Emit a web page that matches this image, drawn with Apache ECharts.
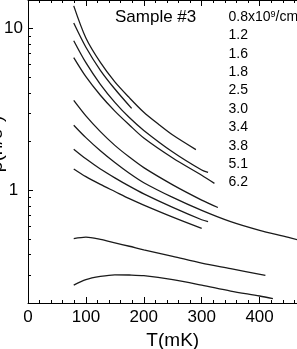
<!DOCTYPE html>
<html><head><meta charset="utf-8">
<script src="https://cdn.jsdelivr.net/npm/echarts@6/dist/echarts.min.js"></script>
<style>html,body{margin:0;padding:0;background:#fff}#c{width:297px;height:349px}</style>
</head><body><div id="c"></div>
<script>
// ---- data ----
const densityLabels = ['0.8x10{sup|9}/cm{sup|2}','1.2','1.6','1.8','2.5','3.0','3.4','3.8','5.1','6.2'];
const T_08 = [79,100,125,150,175,200,225,250,290];
const rho_08 = [13.8,8.73,6.16,4.67,3.73,3.03,2.56,2.19,1.78];
const T_12 = [79,100,125,150,179];
const rho_12 = [10.8,7.65,5.51,4.22,3.2];
const T_16 = [79,100,125,150,175,200,250,300,311];
const rho_16 = [8.4,6.14,4.51,3.49,2.81,2.34,1.72,1.33,1.285];
const T_18 = [79,100,125,150,175,200,250,300,322];
const rho_18 = [6.6,5.03,3.86,3.08,2.53,2.10,1.58,1.235,1.10];
const T_25 = [79,100,125,150,175,200,250,300,328];
const rho_25 = [3.59,2.88,2.30,1.89,1.60,1.376,1.077,0.867,0.78];
const T_30 = [79,100,125,150,175,200,250,300,350,400,450,480];
const rho_30 = [2.52,2.11,1.75,1.48,1.27,1.11,0.90,0.748,0.637,0.563,0.51,0.476];
const T_34 = [79,100,125,150,175,200,250,300,311];
const rho_34 = [1.79,1.56,1.35,1.19,1.057,0.947,0.781,0.655,0.638];
const T_38 = [79,100,125,150,175,200,250,300];
const rho_38 = [1.35,1.21,1.084,0.979,0.884,0.807,0.68,0.579];
const T_51 = [79,100,125,150,175,200,250,300,350,410];
const rho_51 = [0.50,0.511,0.495,0.471,0.449,0.427,0.389,0.353,0.326,0.296];
const T_62 = [79,100,125,150,175,200,250,300,350,400,423];
const rho_62 = [0.258,0.279,0.292,0.299,0.298,0.295,0.279,0.258,0.237,0.221,0.213];
const yTickLabels = [1, 10];
const yMajorTicks = [1, 10];
const yMinorTicks = [0.3,0.4,0.5,0.6,0.7,0.8,0.9,2,3,4,5,6,7,8,9];
const sampleTitle = 'Sample #3';
const xName = 'T(mK)';
const yName = 'ρ(h/e{sup|2})';

// ---- chart ----
const curves = [[T_08,rho_08],[T_12,rho_12],[T_16,rho_16],[T_18,rho_18],[T_25,rho_25],
  [T_30,rho_30],[T_34,rho_34],[T_38,rho_38],[T_51,rho_51],[T_62,rho_62]];
const FONT = '"Liberation Sans", Arial, sans-serif';
const chart = echarts.init(document.getElementById('c'), null, {renderer:'canvas'});

function tickSeries(vals, len) {
  return {
    type:'custom', silent:true, clip:false, z:5,
    data: vals.map(v => [0, v]),
    encode:{x:0, y:1},
    renderItem: (params, api) => {
      const p = api.coord([0, api.value(1)]);
      const y = Math.round(p[1]) + 0.5;
      return {type:'line', shape:{x1:p[0], y1:y, x2:p[0]+len, y2:y},
        style:{stroke:'#000', lineWidth:1}};
    }
  };
}

const lineSeries = curves.map(([t, r]) => ({
  type:'line', showSymbol:false, symbol:'none', smooth:0.3, silent:true,
  data: t.map((x, i) => [x, r[i]]),
  lineStyle:{color:'#1a1a1a', width:1.3}
}));

const graphics = [
  {type:'text', x:115, y:17, style:{text:sampleTitle, font:'17px '+FONT, fill:'#000', verticalAlign:'middle'}},
  {type:'text', x:-3, y:144, rotation:Math.PI/2,
   style:{text:yName, font:'19px '+FONT, fill:'#000', align:'center', verticalAlign:'middle',
     rich:{sup:{fontSize:12, font:'12px '+FONT, verticalAlign:'top'}}}}
];
densityLabels.forEach((s, i) => {
  graphics.push({type:'text', x:228.5, y:17 + i*18.4,
    style:{text:s, font:'14px '+FONT, fill:'#000', verticalAlign:'middle',
      rich:{sup:{fontSize:9, font:'9px '+FONT, verticalAlign:'top', padding:[0,0,4,0]}}}});
});

chart.setOption({
  animation:false,
  backgroundColor:'#fff',
  grid:{left:28, width:289.5, top:0, bottom:46, containLabel:false, outerBoundsMode:'none'},
  xAxis:[{
    type:'value', min:0, max:500, interval:100, position:'bottom',
    name:xName, nameLocation:'middle', nameGap:26,
    nameTextStyle:{fontSize:19, fontFamily:FONT, color:'#000'},
    axisLine:{show:true, lineStyle:{color:'#000', width:1}},
    axisTick:{show:true, inside:true, length:6, lineStyle:{color:'#000'}},
    minorTick:{show:true, splitNumber:5, length:3, lineStyle:{color:'#000'}},
    axisLabel:{fontSize:17, fontFamily:FONT, color:'#000', margin:6},
    splitLine:{show:false}
  },{
    type:'value', min:0, max:500, interval:100, position:'top',
    axisLine:{show:true, onZero:false, lineStyle:{color:'#000', width:1}},
    axisTick:{show:true, inside:true, length:6, lineStyle:{color:'#000'}},
    minorTick:{show:true, splitNumber:5, length:3, lineStyle:{color:'#000'}},
    axisLabel:{show:false}, splitLine:{show:false}
  }],
  yAxis:{
    type:'log', logBase:10, min:0.2, max:15,
    axisLine:{show:true, lineStyle:{color:'#000', width:1}},
    axisTick:{show:false},
    axisLabel:{fontSize:17, fontFamily:FONT, color:'#000', margin:14.5, align:'center',
      formatter: v => { const m = yTickLabels.find(t => Math.abs(t - v) < 1e-6*t); return m ? String(m) : ''; }},
    splitLine:{show:false}, minorSplitLine:{show:false}
  },
  graphic: graphics,
  series: lineSeries.concat([tickSeries(yMajorTicks, 5), tickSeries(yMinorTicks, 3)])
});
</script></body></html>
